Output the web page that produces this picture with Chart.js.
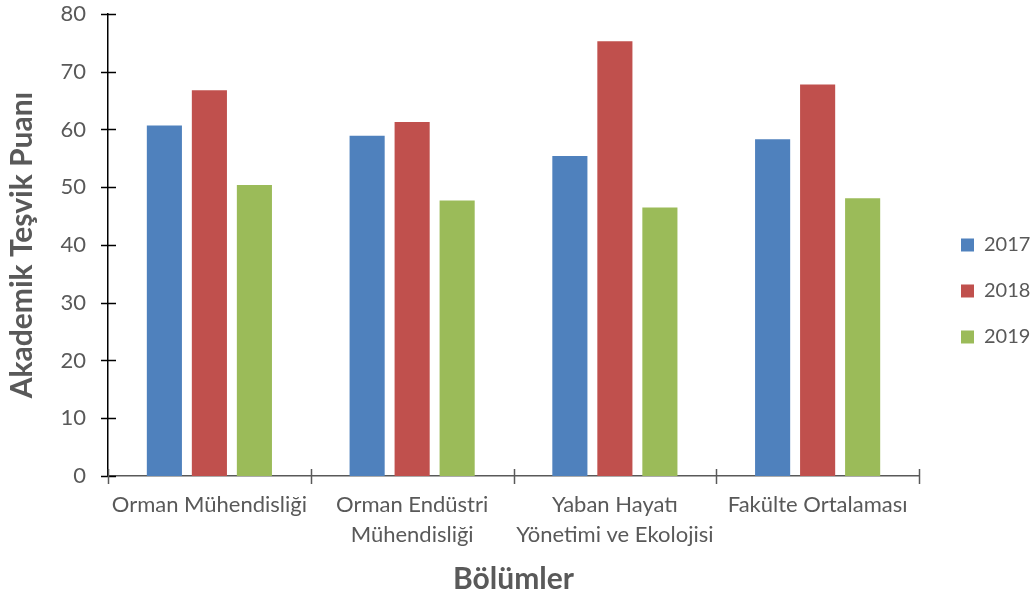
<!DOCTYPE html>
<html>
<head>
<meta charset="utf-8">
<script src="https://cdn.jsdelivr.net/npm/chart.js@4"></script>
<style>
  html, body { margin: 0; padding: 0; background: #fff; }
  #c { display: block; }
</style>
</head>
<body>
<canvas id="c" width="1032" height="597"></canvas>
<script>
const categories = [
  "Orman Mühendisliği",
  ["Orman Endüstri", "Mühendisliği"],
  ["Yaban Hayatı", "Yönetimi ve Ekolojisi"],
  "Fakülte Ortalaması"
];
const seriesNames = ["2017", "2018", "2019"];
const values2017 = [60.7, 58.9, 55.4, 58.3];
const values2018 = [66.8, 61.3, 75.3, 67.8];
const values2019 = [50.4, 47.7, 46.5, 48.1];
const colors = ["#4F81BD", "#C0504D", "#9BBB59"];
const yTicks = [0, 10, 20, 30, 40, 50, 60, 70, 80];

const FONT = "Lato";
const TXT = "#595959";
const LEG_PAD = 26;

const crossTicks = {
  id: "crossTicks",
  afterDraw(chart) {
    const ctx = chart.ctx;
    const y = chart.scales.y, x = chart.scales.x;
    ctx.save();
    ctx.lineWidth = 1.5;
    ctx.strokeStyle = "#000";
    y.ticks.forEach((t, i) => {
      const py = Math.round(y.getPixelForTick(i)) + 0.5;
      ctx.beginPath();
      ctx.moveTo(x.left - 7, py);
      ctx.lineTo(x.left + 8, py);
      ctx.stroke();
    });
    ctx.strokeStyle = "#595959";
    const n = chart.data.labels.length;
    for (let i = 0; i <= n; i++) {
      const px = Math.round(x.left + i * (x.width / n)) + 0.5;
      ctx.beginPath();
      ctx.moveTo(px, y.bottom - 7);
      ctx.lineTo(px, y.bottom + 8);
      ctx.stroke();
    }
    ctx.restore();
  }
};

new Chart(document.getElementById("c"), {
  type: "bar",
  data: {
    labels: categories,
    datasets: [values2017, values2018, values2019].map((v, i) => ({
      label: seriesNames[i],
      data: v,
      backgroundColor: colors[i],
      borderWidth: 0,
      categoryPercentage: 0.666,
      barPercentage: 0.78
    }))
  },
  options: {
    responsive: false,
    devicePixelRatio: 1,
    animation: false,
    layout: { autoPadding: false, padding: { top: 14, right: 0, left: 0, bottom: 3 } },
    plugins: {
      legend: {
        position: "right",
        fullSize: false,
        maxWidth: LEG_PAD + 71,
        title: {
          display: true,
          text: " ",
          font: { family: FONT, size: 10, lineHeight: 1.2 },
          padding: { top: 0, bottom: 80 }
        },
        labels: {
          font: { family: FONT, size: 20 },
          color: TXT,
          boxWidth: 13,
          boxHeight: 13,
          padding: LEG_PAD
        }
      },
      tooltip: { enabled: false }
    },
    scales: {
      x: {
        grid: { display: false, drawTicks: false, offset: true },
        border: { display: true, color: "#595959", width: 1.5 },
        ticks: {
          font: { family: FONT, size: 22, lineHeight: 1.364 },
          color: TXT,
          padding: 14,
          maxRotation: 0,
          autoSkip: false
        },
        title: {
          display: true,
          text: "Bölümler",
          font: { family: FONT, size: 30, weight: "bold", lineHeight: 1.0 },
          color: TXT,
          padding: { top: 0, bottom: 0 }
        },
        afterFit: (s) => { s.paddingLeft = 0; s.paddingRight = 0; }
      },
      y: {
        min: 0,
        max: 80,
        afterBuildTicks: (s) => { s.ticks = yTicks.map(v => ({ value: v })); },
        grid: { display: false, drawTicks: false },
        border: { display: true, color: "#000", width: 1.5 },
        ticks: {
          font: { family: FONT, size: 22 },
          color: TXT,
          padding: 22
        },
        title: {
          display: true,
          text: "Akademik Teşvik Puanı",
          font: { family: FONT, size: 30, weight: "bold", lineHeight: 1.0 },
          color: TXT,
          padding: { top: 7, bottom: 1.5 }
        },
        afterFit: (s) => { s.paddingTop = 0; s.paddingBottom = 0; }
      },
      gap: {
        position: "right",
        display: true,
        grid: { display: false, drawTicks: false },
        border: { display: false },
        ticks: { display: false },
        afterFit: (s) => { s.width = 16; }
      }
    }
  },
  plugins: [crossTicks]
});
</script>
</body>
</html>
